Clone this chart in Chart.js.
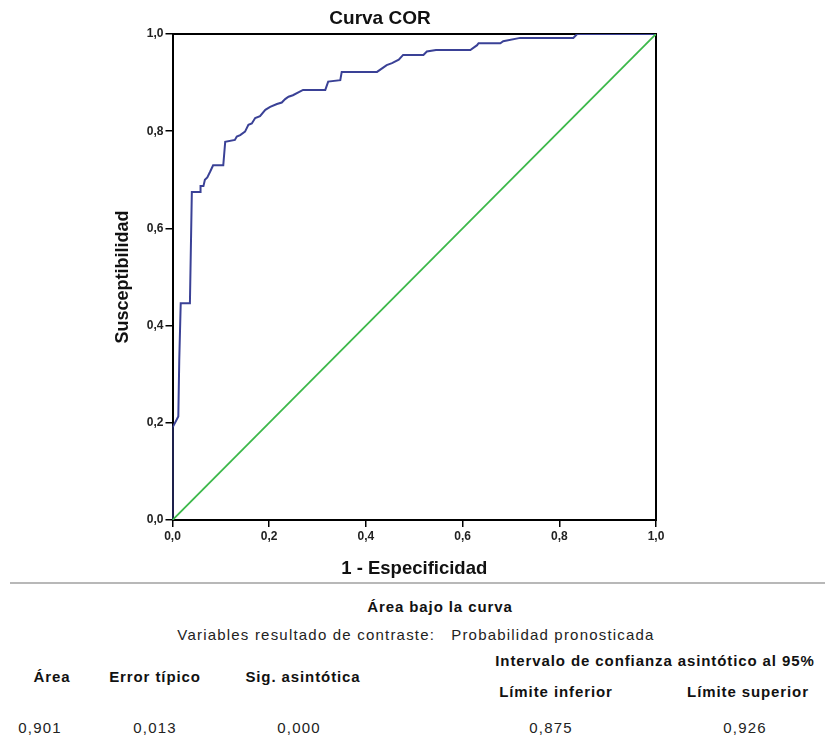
<!DOCTYPE html>
<html><head><meta charset="utf-8">
<script src="https://cdn.jsdelivr.net/npm/chart.js@4/dist/chart.umd.min.js"></script>
<style>
html,body{margin:0;padding:0;background:#fff;}
#wrap{position:relative;width:825px;height:749px;overflow:hidden;font-family:"Liberation Sans",Arial,sans-serif;color:#222;}
#c{position:absolute;left:0;top:0;}
.t{position:absolute;transform:translate(-50%,-50%);white-space:nowrap;font-size:15px;letter-spacing:1.2px;}
.b{font-weight:bold;color:#111;letter-spacing:0.9px;}
#rule{position:absolute;left:10px;right:0;top:582px;height:2px;background:#b8b8b8;}
</style></head>
<body><div id="wrap">
<canvas id="c" width="825" height="580"></canvas>
<div id="rule"></div>
<div class="t b" style="left:440px;top:606px;">Área bajo la curva</div>
<div class="t" style="left:416px;top:634px;">Variables resultado de contraste:&nbsp;&nbsp;&nbsp;Probabilidad pronosticada</div>
<div class="t b" style="left:655px;top:660px;">Intervalo de confianza asintótico al 95%</div>
<div class="t b" style="left:52px;top:676px;">Área</div>
<div class="t b" style="left:155px;top:676px;">Error típico</div>
<div class="t b" style="left:303px;top:676px;">Sig. asintótica</div>
<div class="t b" style="left:556px;top:691px;">Límite inferior</div>
<div class="t b" style="left:748px;top:691px;">Límite superior</div>
<div class="t" style="left:40px;top:727px;">0,901</div>
<div class="t" style="left:155px;top:727px;">0,013</div>
<div class="t" style="left:299px;top:727px;">0,000</div>
<div class="t" style="left:551px;top:727px;">0,875</div>
<div class="t" style="left:745px;top:727px;">0,926</div>
</div>
<script>
// ROC curve (1 - Especificidad, Susceptibilidad)
const fpr = [0, 0, 0.012, 0.014, 0.017, 0.036, 0.038, 0.040, 0.057, 0.058, 0.064, 0.067, 0.072, 0.078, 0.084, 0.105, 0.109, 0.129, 0.133, 0.140, 0.150, 0.157, 0.164, 0.171, 0.181, 0.192, 0.202, 0.216, 0.226, 0.233, 0.240, 0.249, 0.270, 0.316, 0.322, 0.347, 0.350, 0.423, 0.443, 0.454, 0.468, 0.477, 0.519, 0.526, 0.545, 0.616, 0.630, 0.633, 0.678, 0.684, 0.719, 0.829, 0.837, 1.0];
const tpr = [0, 0.19, 0.213, 0.33, 0.446, 0.446, 0.56, 0.675, 0.675, 0.687, 0.687, 0.700, 0.705, 0.717, 0.730, 0.730, 0.778, 0.782, 0.789, 0.792, 0.799, 0.813, 0.816, 0.827, 0.831, 0.844, 0.850, 0.856, 0.859, 0.866, 0.871, 0.874, 0.885, 0.885, 0.902, 0.905, 0.922, 0.922, 0.936, 0.940, 0.947, 0.957, 0.957, 0.964, 0.967, 0.967, 0.977, 0.981, 0.981, 0.985, 0.992, 0.992, 1.0, 1.0];
// Reference line
const refX = [0, 1];
const refY = [0, 1];
const tickLabels = ['0,0', '0,2', '0,4', '0,6', '0,8', '1,0'];

const rocPts = fpr.map((x, i) => ({x: x, y: tpr[i]}));
const refPts = refX.map((x, i) => ({x: x, y: refY[i]}));

const FAM = '"Liberation Sans", Arial, sans-serif';
const tickFont = {family: FAM, size: 12, weight: 'bold'};
const boldFont = (s) => ({family: FAM, size: s, weight: 'bold'});

new Chart(document.getElementById('c'), {
  type: 'scatter',
  data: {
    datasets: [
      {data: refPts, showLine: true, borderColor: '#3cb84a', borderWidth: 1.8, pointRadius: 0, xAxisID: 'x', yAxisID: 'y'},
      {data: rocPts, showLine: true, borderColor: '#3a4196', borderWidth: 2, pointRadius: 0, xAxisID: 'x', yAxisID: 'y'}
    ]
  },
  options: {
    responsive: false,
    devicePixelRatio: 1,
    animation: false,
    layout: {padding: {left: 0, right: 65, top: 0, bottom: 0}},
    plugins: {
      legend: {display: false},
      tooltip: {enabled: false},
      title: {display: true, text: 'Curva COR', font: boldFont(19), color: '#111', padding: {top: 7, bottom: 0}}
    },
    scales: {
      x: {
        type: 'linear', position: 'bottom', min: 0, max: 1,
        ticks: {stepSize: 0.2, font: tickFont, color: '#222', padding: 2, maxRotation: 0,
                callback: (v, i) => tickLabels[i]},
        grid: {display: true, drawOnChartArea: false, drawTicks: true, tickLength: 7, color: '#000', lineWidth: 1.5},
        border: {display: true, color: '#000', width: 2},
        title: {display: true, text: '1 - Especificidad', font: boldFont(18.5), color: '#111', padding: {top: 0, bottom: 0}},
        afterFit: (s) => { s.height = 60; }
      },
      y: {
        type: 'linear', position: 'left', min: 0, max: 1,
        ticks: {stepSize: 0.2, font: tickFont, color: '#222', padding: 2,
                callback: (v, i) => tickLabels[i]},
        grid: {display: true, drawOnChartArea: false, drawTicks: true, tickLength: 7, color: '#000', lineWidth: 1.5},
        border: {display: true, color: '#000', width: 2},
        title: {display: true, text: 'Susceptibilidad', font: boldFont(18), color: '#111', padding: {top: 112, bottom: 0}},
        afterFit: (s) => { s.width = 172.5; }
      },
      xTop: {
        type: 'linear', position: 'top', min: 0, max: 1,
        ticks: {display: false}, grid: {display: false},
        border: {display: true, color: '#000', width: 2},
        afterFit: (s) => { s.height = 4.2; }
      },
      yRight: {
        type: 'linear', position: 'right', min: 0, max: 1,
        ticks: {display: false}, grid: {display: false},
        border: {display: true, color: '#000', width: 2},
        afterFit: (s) => { s.width = 104; }
      }
    }
  }
});
</script>
</body></html>
